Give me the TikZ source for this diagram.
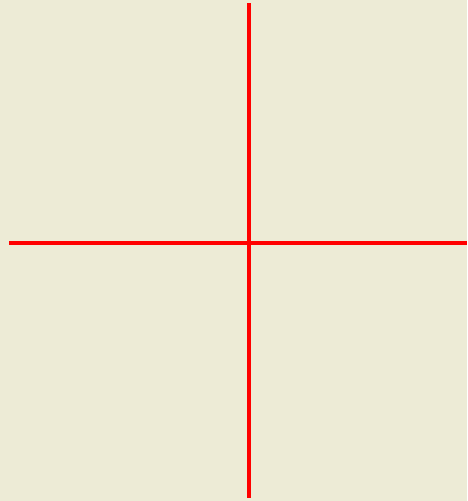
\documentclass[tikz,border=0pt]{standalone}
\usepackage{tikz}

\definecolor{paperbeige}{RGB}{237,235,214}

\begin{document}
\begin{tikzpicture}[x=1pt,y=-1pt]
    % Canvas: 467 x 501 px, origin top left, y grows downwards.
    \fill[paperbeige] (0,0) rectangle (467,501);
    \useasboundingbox (0,0) rectangle (467,501);

    % Axes of the cross.
    \coordinate (hleft) at (9,242.5);
    \coordinate (hright) at (467,242.5);
    \coordinate (vtop) at (248.8,3);
    \coordinate (vbottom) at (248.8,497.5);

    \draw[red, line width=4pt] (hleft) -- (hright);
    \draw[red, line width=4pt] (vtop) -- (vbottom);
\end{tikzpicture}
\end{document}
